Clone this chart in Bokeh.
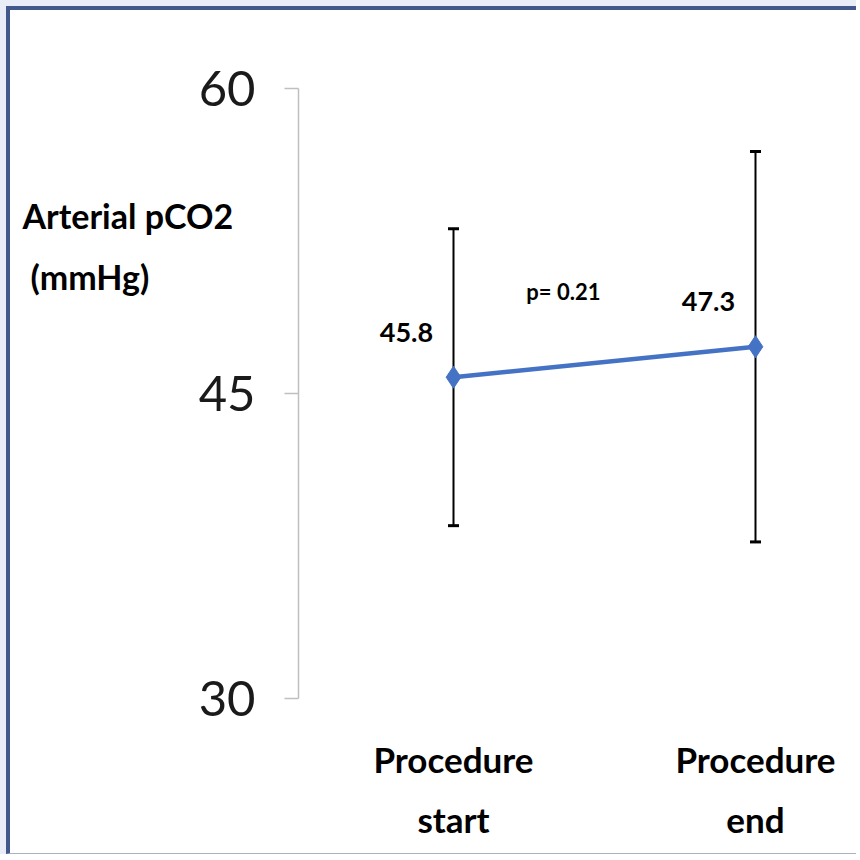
from bokeh.plotting import figure
from bokeh.models import (ColumnDataSource, Range1d, FixedTicker, Whisker, TeeHead,
                          Label, LabelSet)
from bokeh.core.properties import value
from bokeh.layouts import column
from bokeh.embed import file_html
from bokeh.resources import INLINE

# ---- data ----
categories = ["Procedure\nstart", "Procedure\nend"]
x_pos = [1, 2]
means = [45.8, 47.3]
sds = [7.3, 9.6]
mean_labels = ["45.8", "47.3"]
y_ticks = [30, 45, 60]
y_title = "Arterial pCO2"
y_unit = "(mmHg)"
p_value_text = "p= 0.21"

FONT = "Lato"
BLUE = "#4472c4"

upper = [m + s for m, s in zip(means, sds)]
lower = [m - s for m, s in zip(means, sds)]
src = ColumnDataSource(dict(x=x_pos, y=means, upper=upper, lower=lower, lab=mean_labels))

X0, X1 = -0.4669, 2.3477
Y0, Y1 = 22.131, 63.836
AXIS_X = 0.48675

p = figure(width=850, height=848, output_backend="svg", toolbar_location=None,
           x_range=Range1d(X0, X1), y_range=Range1d(Y0, Y1),
           min_border=0)
p.styles = {"background-color": "white",
            "border-left": "4px solid #44598b", "border-top": "4px solid #44598b",
            "border-bottom": "1px solid #aab2c6"}
p.outline_line_color = None
p.grid.visible = False
p.background_fill_color = None
p.border_fill_color = None

# y axis
ya = p.yaxis[0]
ya.fixed_location = AXIS_X
ya.bounds = (y_ticks[0], y_ticks[-1])
ya.ticker = FixedTicker(ticks=y_ticks)
ya.axis_line_color = "#bfbfbf"
ya.axis_line_width = 1.5
ya.major_tick_line_color = "#bfbfbf"
ya.major_tick_line_width = 1.5
ya.major_tick_out = 14
ya.major_tick_in = 0
ya.minor_tick_line_color = None
ya.major_label_text_font = FONT
ya.major_label_text_font_size = "49px"
ya.major_label_text_color = "#1a1a1a"
ya.major_label_standoff = 29

# x axis (category labels)
xa = p.xaxis[0]
xa.fixed_location = y_ticks[0]
xa.ticker = FixedTicker(ticks=x_pos)
xa.major_label_overrides = {x: c for x, c in zip(x_pos, categories)}
xa.axis_line_color = None
xa.major_tick_line_color = None
xa.minor_tick_line_color = None
xa.major_label_text_font = FONT
xa.major_label_text_font_style = "bold"
xa.major_label_text_font_size = "35px"
xa.major_label_text_line_height = 1.42
xa.major_label_text_color = "black"
xa.major_label_standoff = 34

# error bars
w = Whisker(base="x", upper="upper", lower="lower", source=src,
            line_color="black", line_width=2,
            upper_head=TeeHead(size=11, line_color="black", line_width=3),
            lower_head=TeeHead(size=11, line_color="black", line_width=3))
p.add_layout(w)

# line and markers
p.line("x", "y", source=src, line_color=BLUE, line_width=4.5)
p.scatter("x", "y", source=src, marker="diamond", size=22, fill_color=BLUE,
          line_color=BLUE)

# value labels
ls = LabelSet(x="x", y="y", text="lab", source=src, x_offset=-47, y_offset=45,
              text_align="center", text_baseline="middle", text_font=value(FONT),
              text_font_style="bold", text_font_size="27px", text_color="black")
p.add_layout(ls)

# p-value
p.add_layout(Label(x=1.364, y=49.87, y_offset=3, text=p_value_text, text_align="center",
                   text_baseline="middle", text_font=FONT, text_font_style="bold",
                   text_font_size="22px", text_color="black"))

# y axis title (horizontal, upper left), positioned from the canvas top-left
p.add_layout(Label(x=X0, y=Y1, x_offset=12, y_offset=-205, text=y_title,
                   text_align="left", text_baseline="alphabetic", text_font=FONT,
                   text_font_style="bold", text_font_size="34px", text_color="black"))
p.add_layout(Label(x=X0, y=Y1, x_offset=20, y_offset=-266, text=y_unit,
                   text_align="left", text_baseline="alphabetic", text_font=FONT,
                   text_font_style="bold", text_font_size="34px", text_color="black"))

layout = column(p, styles={"background-color": "#e8edf7", "padding-left": "6px",
                           "padding-top": "6px"})

open("out.html", "w").write(file_html(layout, INLINE))
